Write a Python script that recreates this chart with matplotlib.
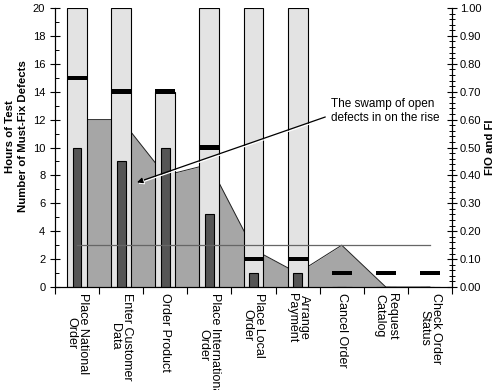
import matplotlib
matplotlib.use("Agg")
import matplotlib.pyplot as plt
import matplotlib.patheffects as pe
import numpy as np

plt.rcParams['font.family'] = ['Liberation Sans', 'DejaVu Sans']

# data
categories = ["Place National\nOrder", "Enter Customer\nData", "Order Product",
              "Place International\nOrder", "Place Local\nOrder", "Arrange\nPayment",
              "Cancel Order", "Request\nCatalog", "Check Order\nStatus"]
hours_of_test = [20, 20, 14, 20, 20, 20, 0, 0, 0]
must_fix = [10, 9, 10, 5.2, 1, 1, 0, 0, 0]
open_defects = [12, 12, 8, 8.8, 2.7, 1, 3, 0, 0]
fio = [0.75, 0.70, 0.70, 0.50, 0.10, 0.10, 0.05, 0.05, 0.05]
fi_target = [0.15] * 9

x = np.arange(len(categories)) + 0.5

fig = plt.figure(figsize=(5, 3.9), dpi=100)
ax = fig.add_axes([0.11, 0.264, 0.794, 0.7155])
ax2 = ax.twinx()

# swamp of open defects
ax.fill_between(x, open_defects, 0, color="#a6a6a6", zorder=1, linewidth=0)
ax.plot(x, open_defects, color="#222222", lw=0.7, zorder=1.5)

ax.bar(x, hours_of_test, width=0.45, color="#e3e3e3", edgecolor="black", lw=0.8, zorder=2)
ax.bar(x, must_fix, width=0.2, color="#555555", edgecolor="black", lw=0.8, zorder=3)

# FIO markers and FI line on right axis
ax2.bar(x, 0.016, bottom=np.array(fio) - 0.008, width=0.45, color="black", zorder=4)
ax2.plot(x, fi_target, color="#666666", lw=0.9, zorder=5)

ax.set_xlim(0, len(categories))
ax.set_ylim(0, 20)
ax2.set_ylim(0, 1.0)

ax.set_yticks(np.arange(0, 21, 2))
ax.set_yticks(np.arange(1, 20, 2), minor=True)
ax2.set_yticks(np.arange(0, 1.01, 0.1))
ax2.set_yticks(np.arange(0, 1.0, 0.02), minor=True)
ax2.set_yticklabels(["%.2f" % v for v in np.arange(0, 1.01, 0.1)])

ax.set_xticks(np.arange(len(categories) + 1))
ax.set_xticklabels([])
ax.set_xticks(x, minor=True)
ax.set_xticklabels(categories, minor=True, rotation=270, ha="center", va="top",
                   multialignment="center", fontsize=9, linespacing=1.0)
ax.tick_params(axis="x", which="major", direction="out", length=5, width=0.8)
ax.tick_params(axis="x", which="minor", length=0, pad=4)
ax.tick_params(axis="y", which="major", direction="inout", length=7, width=0.8, labelsize=8)
ax.tick_params(axis="y", which="minor", direction="in", length=3, width=0.7)
ax2.tick_params(axis="y", which="major", direction="inout", length=7, width=0.8, labelsize=8,
                pad=2)
ax2.tick_params(axis="y", which="minor", direction="inout", length=4, width=0.7)

for a in (ax, ax2):
    a.spines["top"].set_visible(False)
    a.spines["left"].set_linewidth(0.8)
    a.spines["right"].set_linewidth(0.8)
    a.spines["bottom"].set_linewidth(0.8)

ax.set_ylabel("Hours of Test\nNumber of Must-Fix Defects", fontsize=8.2, fontweight="bold",
              linespacing=1.35)
ax.yaxis.set_label_coords(-0.068, 0.54)
ax2.set_ylabel("FIO and FI", fontsize=8.2, fontweight="bold", labelpad=3)

ax2.annotate("The swamp of open\ndefects in on the rise", xy=(1.86, 0.375), xytext=(6.25, 0.63),
             fontsize=8.5, ha="left", va="center", zorder=6,
             arrowprops=dict(arrowstyle="-|>", color="black", lw=0.9, relpos=(0, 0.35),
                             shrinkA=2, shrinkB=0, mutation_scale=8,
                             path_effects=[pe.SimpleLineShadow(offset=(0.8, -0.8),
                                                               shadow_color="white", alpha=1),
                                           pe.Normal()]))

fig.savefig("out.png", dpi=100)
